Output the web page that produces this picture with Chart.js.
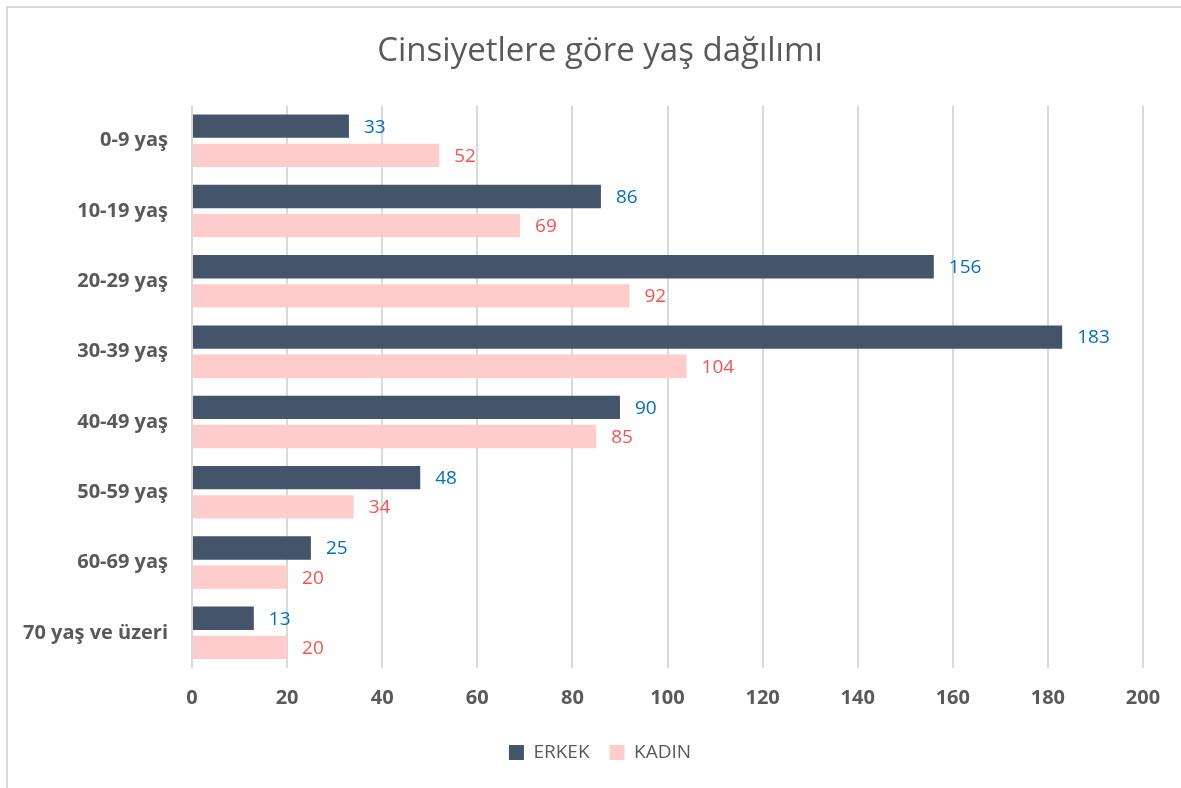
<!DOCTYPE html>
<html>
<head>
<meta charset="utf-8">
<script src="https://cdn.jsdelivr.net/npm/chart.js@4"></script>
<style>
  body { margin: 0; background: #fff; overflow: hidden; }
  #frame { position: absolute; left: 6px; top: 6px; width: 1250px; height: 850px; border: 2px solid #d9d9d9; }
  #myChart { position: absolute; left: 0; top: 0; }
</style>
</head>
<body>
<div id="frame"></div>
<canvas id="myChart" width="1181" height="788"></canvas>
<script>
var categories = ['0-9 yaş', '10-19 yaş', '20-29 yaş', '30-39 yaş', '40-49 yaş', '50-59 yaş', '60-69 yaş', '70 yaş ve üzeri'];
var erkek = [33, 86, 156, 183, 90, 48, 25, 13];
var kadin = [52, 69, 92, 104, 85, 34, 20, 20];
var labelColors = ['#0070C0', '#FF5050'];

// simple value labels at the end of each bar
var barLabels = {
    id: 'barLabels',
    afterLayout: function(chart) {
        // title and legend are centred on the whole chart frame, not the canvas
        chart.titleBlock.left = 57;
        chart.legend.left = 57;
    },
    afterDatasetsDraw: function(chart) {
        var ctx = chart.ctx;
        ctx.save();
        ctx.font = '19px "Open Sans"';
        ctx.textAlign = 'left';
        ctx.textBaseline = 'middle';
        chart.data.datasets.forEach(function(ds, i) {
            var meta = chart.getDatasetMeta(i);
            ctx.fillStyle = labelColors[i];
            meta.data.forEach(function(bar, j) {
                ctx.fillText(ds.data[j], bar.x + 15, bar.y + 1);
            });
        });
        ctx.restore();
    }
};

var ctx = document.getElementById('myChart').getContext('2d');
var myChart = new Chart(ctx, {
    type: 'bar',
    data: {
        labels: categories,
        datasets: [{
            label: 'ERKEK',
            data: erkek,
            backgroundColor: '#44546A',
            categoryPercentage: 0.83,
            barPercentage: 0.8
        }, {
            label: 'KADIN',
            data: kadin,
            backgroundColor: '#FFCCCC',
            categoryPercentage: 0.83,
            barPercentage: 0.8
        }]
    },
    options: {
        indexAxis: 'y',
        responsive: false,
        animation: false,
        layout: {
            padding: { left: 0, right: 38, top: 20, bottom: 16 }
        },
        plugins: {
            title: {
                display: true,
                text: 'Cinsiyetlere göre yaş dağılımı',
                color: '#595959',
                font: { family: '"Open Sans"', size: 33, weight: 'normal' },
                padding: { top: 12, bottom: 34 }
            },
            legend: {
                position: 'bottom',
                labels: {
                    color: '#595959',
                    font: { family: '"Open Sans"', size: 19 },
                    boxWidth: 15,
                    boxHeight: 15,
                    padding: 20
                }
            },
            tooltip: { enabled: false }
        },
        scales: {
            x: {
                min: 0,
                max: 200,
                afterFit: function(scale) { scale.height = 55; },
                ticks: {
                    stepSize: 20,
                    color: '#595959',
                    font: { family: '"Open Sans"', size: 20, weight: 'bold' },
                    padding: 18
                },
                grid: { color: '#d9d9d9', lineWidth: 2, drawTicks: false },
                border: { display: false }
            },
            y: {
                afterFit: function(scale) { scale.width = 192; },
                ticks: {
                    color: '#595959',
                    font: { family: '"Open Sans"', size: 20, weight: 'bold' },
                    padding: 24
                },
                grid: { display: false, drawTicks: false },
                border: { display: false }
            }
        }
    },
    plugins: [barLabels]
});
</script>
</body>
</html>
